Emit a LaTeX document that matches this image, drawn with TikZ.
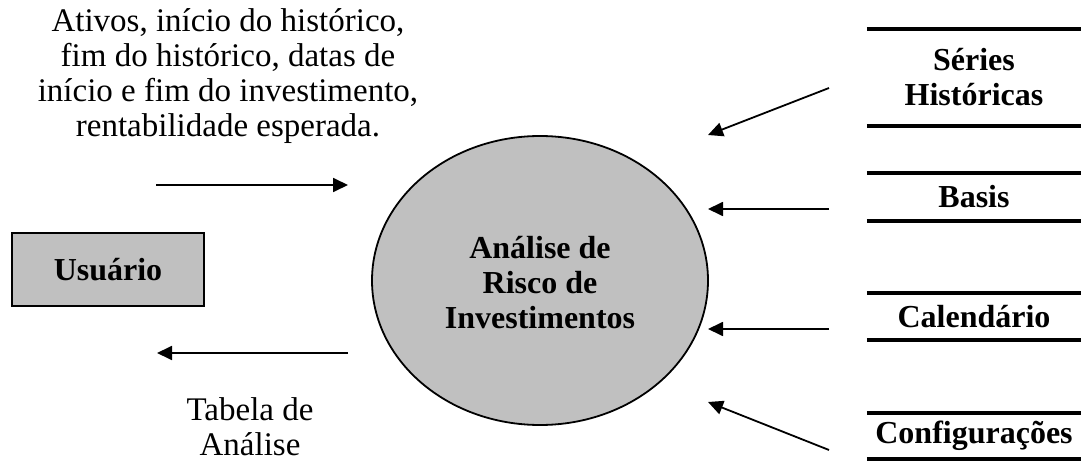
\documentclass[tikz,border=0pt]{standalone}
\usepackage{fontspec}
\setmainfont{Liberation Serif}
\usetikzlibrary{arrows.meta,shapes.geometric}
\definecolor{procgray}{HTML}{C0C0C0}
\tikzset{
  lbl/.style={align=center,font=\fontsize{33}{35}\selectfont,inner sep=0pt},
  blbl/.style={lbl,font=\fontsize{32}{35}\selectfont\bfseries},
  flow/.style={line width=1.8pt,-{Triangle[length=15pt,width=14pt]}},
  store/.style={blbl,minimum width=214pt,text width=214pt},
  storeline/.style={line width=4pt},
}
\begin{document}
\begin{tikzpicture}[x=1pt,y=-1pt]
\useasboundingbox (0,0) rectangle (1081,462);
% external entity
\node[blbl,draw,line width=1.3pt,fill=procgray,minimum width=192pt,minimum height=73pt] (user) at (108,269.5) {Usuário};
% process
\node[blbl,draw,line width=1.8pt,fill=procgray,ellipse,minimum width=336pt,minimum height=289pt] (proc) at (540,280.5) {};
\node[blbl] (proctext) at (540,283) {Análise de\\Risco de\\Investimentos};
% labels
\node[lbl] (inlabel) at (228,76) {Ativos, início do histórico,\\fim do histórico, datas de\\início e fim do investimento,\\rentabilidade esperada.};
\node[lbl] (outlabel) at (250,427) {Tabela de\\Análise};
% data stores
\node[store,minimum height=97pt] (s1) at (974,77.5) {Séries\\Históricas};
\node[store,minimum height=48pt] (s2) at (974,197) {Basis};
\node[store,minimum height=47pt] (s3) at (974,316.5) {Calendário};
\node[store,minimum height=46pt] (s4) at (974,436) {Configurações};
\foreach \s in {s1,s2,s3,s4}{
  \draw[storeline] (\s.north west) -- (\s.north east);
  \draw[storeline] (\s.south west) -- (\s.south east);
}
% flow coordinates
\coordinate (inA) at (156,185);
\coordinate (inB) at (348,185);
\coordinate (outA) at (348,353);
\coordinate (outB) at (157,353);
\coordinate (a1) at (829,88);  \coordinate (b1) at (708,135);
\coordinate (a2) at (829,209); \coordinate (b2) at (708,209);
\coordinate (a3) at (829,329); \coordinate (b3) at (708,329);
\coordinate (a4) at (829,450); \coordinate (b4) at (708,402);
\draw[flow] (inA) -- (inB);
\draw[flow] (outA) -- (outB);
\draw[flow] (a1) -- (b1);
\draw[flow] (a2) -- (b2);
\draw[flow] (a3) -- (b3);
\draw[flow] (a4) -- (b4);
\end{tikzpicture}
\end{document}
